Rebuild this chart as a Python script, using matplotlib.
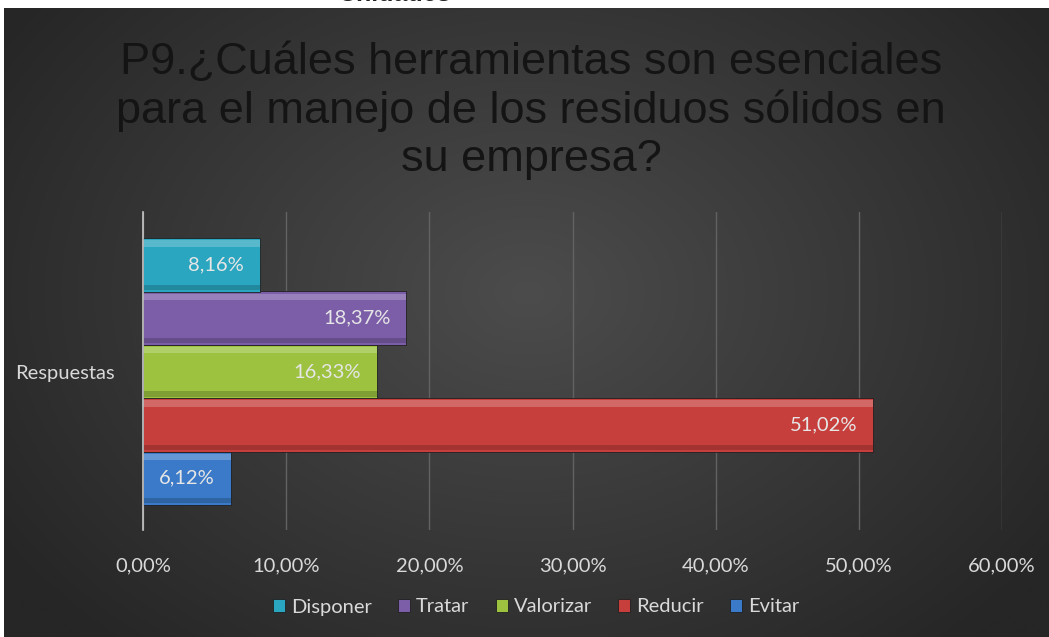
import numpy as np
import matplotlib
matplotlib.use("Agg")
import matplotlib.pyplot as plt
from matplotlib.ticker import FuncFormatter, MultipleLocator

# ---- data ----
series = ["Evitar", "Reducir", "Valorizar", "Tratar", "Disponer"]
values = [6.12, 51.02, 16.33, 18.37, 8.16]
colors = ["#3a7ac8", "#c73f3c", "#9cc240", "#7c5ea8", "#2aa6c0"]
category = "Respuestas"
title = "P9.¿Cuáles herramientas son esenciales\npara el manejo de los residuos sólidos en\nsu empresa?"

W, H = 1049, 637
fig = plt.figure(figsize=(W / 100, H / 100), dpi=100)
fig.patch.set_facecolor("white")

# background with radial gradient
bg = fig.add_axes([4 / W, 0, 1 - 4 / W, 1 - 8 / H])
yy, xx = np.mgrid[0:200, 0:330]
cx, cy = 165, 90
r = np.sqrt(((xx - cx) / 200) ** 2 + ((yy - cy) / 150) ** 2)
r = np.clip(r, 0, 1)
c0 = np.array([0x4c, 0x4c, 0x4c]) / 255
c1 = np.array([0x26, 0x26, 0x26]) / 255
img = c0[None, None, :] * (1 - r[..., None]) + c1[None, None, :] * r[..., None]
bg.imshow(img, aspect="auto", interpolation="bicubic", extent=[0, 1, 0, 1])
bg.set_axis_off()

# partially visible text at the very top
fig.text(395 / W, 1 + 6 / H, "Unidades", ha="center", va="center", fontsize=18,
         fontweight="bold", color="#222222", family="Liberation Sans")

fig.text(531 / W, 1 - 111 / H, title, ha="center", va="center", fontsize=32.5,
         color="#141414", family="Liberation Sans", linespacing=1.2)

ax = fig.add_axes([143 / W, 1 - 530 / H, (1002 - 143) / W, (530 - 212) / H])
ax.set_facecolor("none")
ypos = np.arange(len(series))
bh = 1.0
for i, (s, v, c) in enumerate(zip(series, values, colors)):
    ax.barh(ypos[i], v, height=bh, color=c, edgecolor="#202020", linewidth=0.6,
            label=s, zorder=3)
    # bevel highlight (top) and shade (bottom)
    ax.barh(ypos[i] + 0.40, v, height=0.12, color="white", alpha=0.22,
            linewidth=0, zorder=4)
    ax.barh(ypos[i] - 0.42, v, height=0.10, color="black", alpha=0.18,
            linewidth=0, zorder=4)
    lbl = f"{v:.2f}".replace(".", ",") + "%"
    ax.text(v - 1.1, ypos[i], lbl, ha="right", va="center", fontsize=14.5,
            color="#e6e6e6", family="Lato", zorder=5)

ax.set_xlim(0, 60)
ax.set_ylim(-0.97, 4.99)
ax.xaxis.set_major_locator(MultipleLocator(10))
ax.xaxis.set_major_formatter(FuncFormatter(lambda x, p: f"{x:.2f}".replace(".", ",") + "%"))
ax.grid(axis="x", color="#626262", linewidth=1, zorder=0)
ax.set_yticks([2])
ax.set_yticklabels([category])
for sp in ["top", "right", "bottom"]:
    ax.spines[sp].set_visible(False)
ax.spines["left"].set_color("#c8c8c8")
ax.spines["left"].set_linewidth(1.2)
ax.spines["left"].set_zorder(6)
ax.tick_params(axis="both", length=0, colors="#d9d9d9", labelsize=14.5)
ax.tick_params(axis="x", pad=20)
ax.tick_params(axis="y", pad=20)
for t in ax.get_xticklabels() + ax.get_yticklabels():
    t.set_family("Lato")

handles, labels = ax.get_legend_handles_labels()
order = [4, 3, 2, 1, 0]
leg = fig.legend([handles[i] for i in order], [labels[i] for i in order],
                 loc="center", bbox_to_anchor=(536 / W, 1 - 607 / H), ncol=5,
                 frameon=False, handlelength=0.6, handleheight=0.6,
                 handletextpad=0.3, columnspacing=1.3,
                 prop={"family": "Lato", "size": 14.5})
for t in leg.get_texts():
    t.set_color("#d9d9d9")

fig.savefig("out.png", dpi=100, facecolor=fig.get_facecolor())
